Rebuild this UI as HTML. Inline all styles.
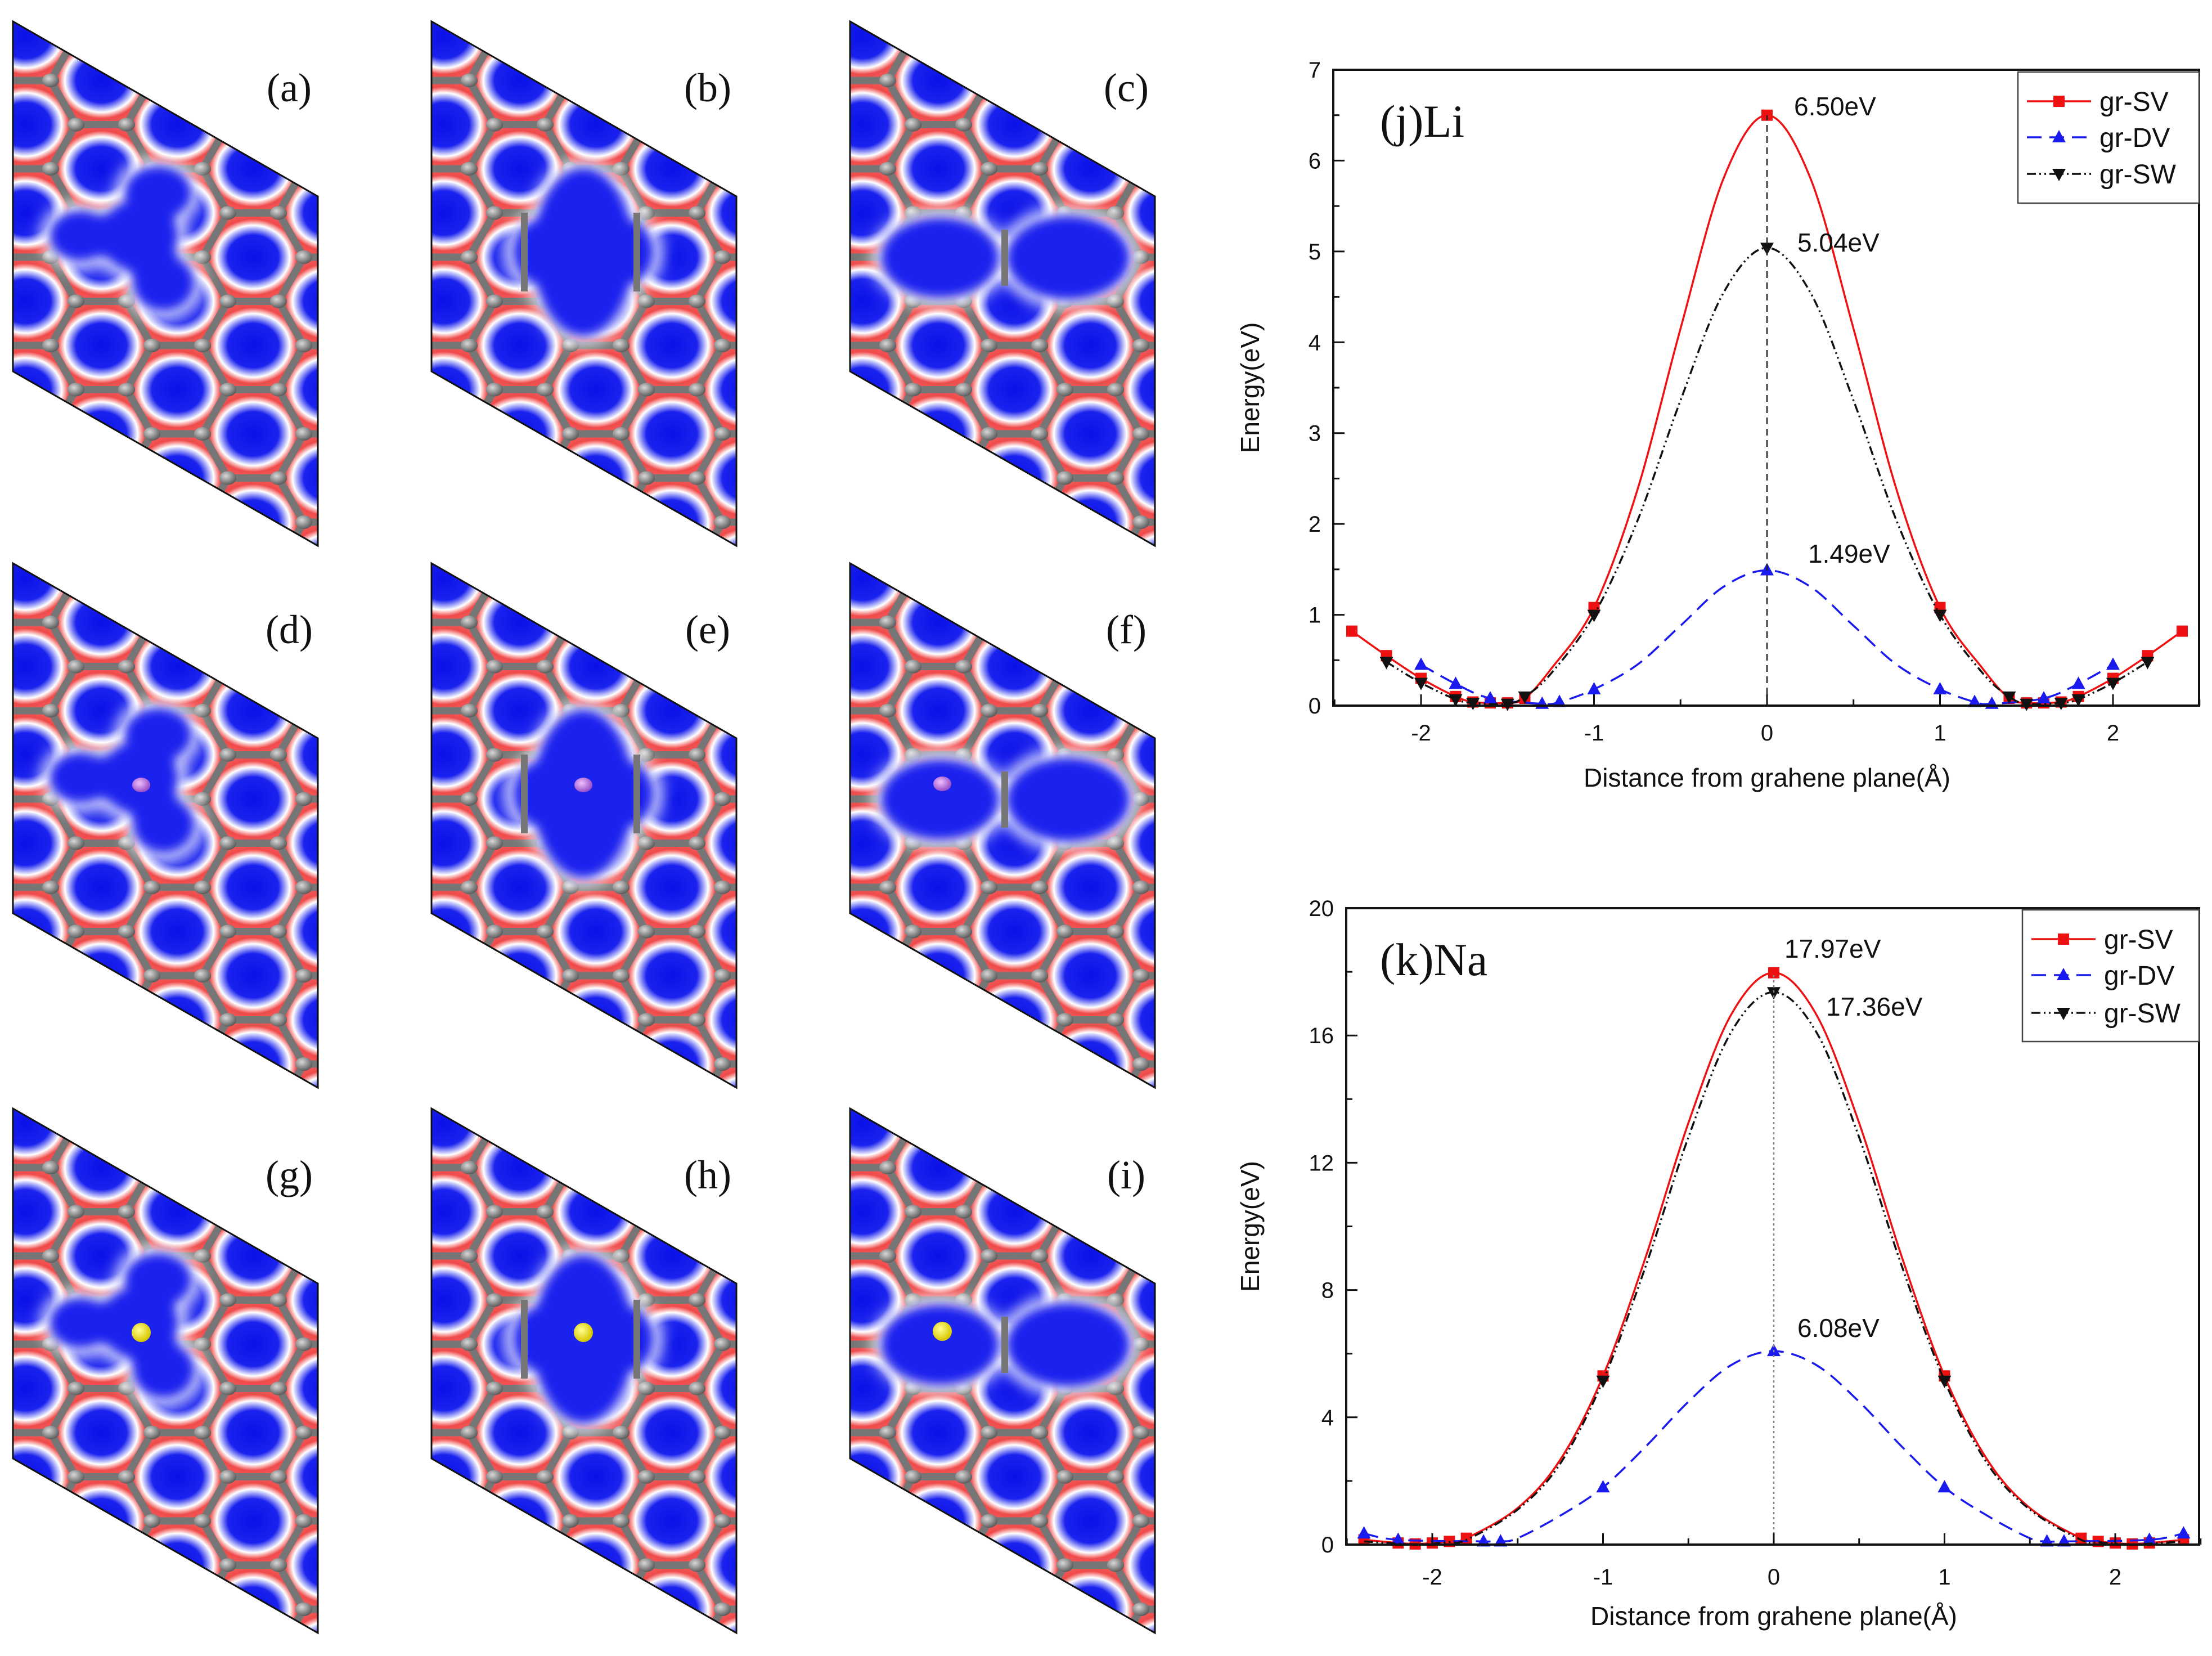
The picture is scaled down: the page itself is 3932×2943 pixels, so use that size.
<!DOCTYPE html>
<html><head><meta charset="utf-8">
<style>
html,body{margin:0;padding:0;background:#fff;}
svg{display:block;}
text{font-family:"Liberation Sans",sans-serif;}
.ser{font-family:"Liberation Serif",serif;}
</style></head>
<body>
<svg id="fig" width="3932" height="2943" viewBox="0 0 3932 2943" xmlns="http://www.w3.org/2000/svg">
<defs>
  <radialGradient id="hexfill" cx="50%" cy="50%" r="50%">
    <stop offset="0" stop-color="#0a10e8"/>
    <stop offset="0.5" stop-color="#1a22ee"/>
    <stop offset="0.72" stop-color="#ffffff"/>
    <stop offset="0.86" stop-color="#f04a4a"/>
    <stop offset="1" stop-color="#f05858"/>
  </radialGradient>
  <radialGradient id="atomG" cx="38%" cy="35%" r="65%">
    <stop offset="0" stop-color="#d8d8d8"/><stop offset="1" stop-color="#5e5e5e"/>
  </radialGradient>
  <filter id="soft" x="-30%" y="-30%" width="160%" height="160%"><feGaussianBlur stdDeviation="9"/></filter>
  <filter id="halo" x="-30%" y="-30%" width="160%" height="160%"><feGaussianBlur stdDeviation="14"/></filter>
  <radialGradient id="liG" cx="40%" cy="38%" r="60%"><stop offset="0" stop-color="#f0c0ff"/><stop offset="1" stop-color="#9a50c8"/></radialGradient>
  <radialGradient id="naG" cx="40%" cy="38%" r="60%"><stop offset="0" stop-color="#ffff90"/><stop offset="1" stop-color="#d8c800"/></radialGradient>
  <pattern id="lattice" patternUnits="userSpaceOnUse" x="157" y="105" width="270" height="157">
    <g id="tile"></g>
  </pattern>
  <clipPath id="para"><polygon points="0,0 542,311 542,932 0,622"/></clipPath>
</defs>
<g id="panels"></g>
<g id="chartJ"></g>
<g id="chartK"></g>
</svg>
<script>
// ---------- chart data (j: Li) ----------
const jSvX=[-2.4,-2.2,-2,-1.8,-1.7,-1.6,-1.5,-1.4,-1.25,-1,-0.75,-0.5,-0.25,0,0.25,0.5,0.75,1,1.25,1.4,1.5,1.6,1.7,1.8,2,2.2,2.4];
const jSvY=[0.82,0.55,0.3,0.1,0.04,0.03,0.03,0.08,0.4,1.08,2.37,4.15,5.81,6.5,5.81,4.15,2.37,1.08,0.4,0.08,0.03,0.03,0.04,0.1,0.3,0.55,0.82];
const jSvMarkX=[-2.4,-2.2,-2,-1.8,-1.7,-1.6,-1.5,-1.4,-1,0,1,1.4,1.5,1.6,1.7,1.8,2,2.2,2.4];
const jDvX=[-2,-1.8,-1.6,-1.3,-1.2,-1,-0.75,-0.5,-0.25,0,0.25,0.5,0.75,1,1.2,1.3,1.6,1.8,2];
const jDvY=[0.45,0.24,0.08,0.02,0.04,0.18,0.45,0.88,1.31,1.49,1.31,0.88,0.45,0.18,0.04,0.02,0.08,0.24,0.45];
const jDvMarkX=[-2,-1.8,-1.6,-1.3,-1.2,-1,0,1,1.2,1.3,1.6,1.8,2];
const jSwX=[-2.2,-2,-1.8,-1.7,-1.5,-1.4,-1.25,-1,-0.75,-0.5,-0.25,0,0.25,0.5,0.75,1,1.25,1.4,1.5,1.7,1.8,2,2.2];
const jSwY=[0.48,0.25,0.07,0.03,0.02,0.1,0.35,1.0,2.03,3.36,4.55,5.04,4.55,3.36,2.03,1.0,0.35,0.1,0.02,0.03,0.07,0.25,0.48];
const jSwMarkX=[-2.2,-2,-1.8,-1.7,-1.5,-1.4,-1,0,1,1.4,1.5,1.7,1.8,2,2.2];
const jXTicks=[-2,-1,0,1,2];
const jYTicks=[0,1,2,3,4,5,6,7];
const jPeakLabels=["6.50eV","5.04eV","1.49eV"];
const jPeakValues=[6.5,5.04,1.49];
// ---------- chart data (k: Na) ----------
const kSvX=[-2.4,-2.2,-2.1,-2,-1.9,-1.8,-1.5,-1.25,-1,-0.75,-0.5,-0.25,0,0.25,0.5,0.75,1,1.25,1.5,1.8,1.9,2,2.1,2.2,2.4];
const kSvY=[0.15,0.05,0.02,0.05,0.1,0.2,1.15,2.67,5.3,9.04,13.25,16.65,17.97,16.65,13.25,9.04,5.3,2.67,1.15,0.2,0.1,0.05,0.02,0.05,0.15];
const kSvMarkX=[-2.4,-2.2,-2.1,-2,-1.9,-1.8,-1,0,1,1.8,1.9,2,2.1,2.2,2.4];
const kSwX=[-2.4,-2.2,-2.1,-2,-1.9,-1.8,-1.5,-1.25,-1,-0.75,-0.5,-0.25,0,0.25,0.5,0.75,1,1.25,1.5,1.8,1.9,2,2.1,2.2,2.4];
const kSwY=[0.1,0.03,0.01,0.03,0.08,0.15,1.1,2.55,5.15,8.75,12.8,16.1,17.36,16.1,12.8,8.75,5.15,2.55,1.1,0.15,0.08,0.03,0.01,0.03,0.1];
const kSwMarkX=[-1,0,1];
const kDvX=[-2.4,-2.2,-1.7,-1.6,-1.5,-1.25,-1,-0.75,-0.5,-0.25,0,0.25,0.5,0.75,1,1.25,1.5,1.6,1.7,2.2,2.4];
const kDvY=[0.35,0.15,0.1,0.1,0.2,0.91,1.8,3.08,4.49,5.64,6.08,5.64,4.49,3.08,1.8,0.91,0.2,0.1,0.1,0.15,0.35];
const kDvMarkX=[-2.4,-2.2,-1.7,-1.6,-1,0,1,1.6,1.7,2.2,2.4];
const kXTicks=[-2,-1,0,1,2];
const kYTicks=[0,4,8,12,16,20];
const kPeakLabels=["17.97eV","17.36eV","6.08eV"];
const kPeakValues=[17.97,17.36,6.08];

const NS="http://www.w3.org/2000/svg";
function mk(tag,attrs,parent){const e=document.createElementNS(NS,tag);for(const k in attrs)e.setAttribute(k,attrs[k]);if(parent)parent.appendChild(e);return e;}

// ---------- lattice tile ----------
(function(){
  const tile=document.getElementById('tile');
  const s=90,h=78.5;
  const centers=[[0,0],[270,0],[0,157],[270,157],[135,78.5],[135,-78.5],[135,235.5]];
  const hexPts=(cx,cy)=>[[cx-s,cy],[cx-s/2,cy-h],[cx+s/2,cy-h],[cx+s,cy],[cx+s/2,cy+h],[cx-s/2,cy+h]];
  centers.forEach(c=>{mk('polygon',{points:hexPts(c[0],c[1]).map(p=>p.join(',')).join(' '),fill:'url(#hexfill)'},tile);});
  centers.forEach(c=>{mk('polygon',{points:hexPts(c[0],c[1]).map(p=>p.join(',')).join(' '),fill:'none',stroke:'#767676','stroke-width':13},tile);});
  centers.forEach(c=>{hexPts(c[0],c[1]).forEach(p=>mk('ellipse',{cx:p[0],cy:p[1],rx:15,ry:12,fill:'url(#atomG)'},tile));});
})();

// ---------- structure panels ----------
function blob(parent,shapes){
  const h=mk('g',{filter:'url(#halo)'},parent);
  shapes.forEach(s=>mk('ellipse',{cx:s[0],cy:s[1],rx:s[2]+14,ry:s[3]+14,fill:'#ffffff'},h));
  const b=mk('g',{filter:'url(#soft)'},parent);
  shapes.forEach(s=>mk('ellipse',{cx:s[0],cy:s[1],rx:s[2],ry:s[3],fill:'#1a22ee'},b));
}
(function(){
  const root=document.getElementById('panels');
  const colX=[23,767,1511], rowY=[38,1001,1970];
  const labels=[["(a)","(b)","(c)"],["(d)","(e)","(f)"],["(g)","(h)","(i)"]];
  for(let r=0;r<3;r++)for(let c=0;c<3;c++){
    const g=mk('g',{transform:`translate(${colX[c]},${rowY[r]})`},root);
    
    
    const inner=mk('g',{'clip-path':'url(#para)'},g);
    mk('rect',{x:0,y:0,width:542,height:932,fill:'url(#lattice)'},inner);
    if(c===0){
      blob(inner,[[120,381,55,45],[224,381,70,65],[258,305,60,48],[268,465,55,50],[175,381,60,40],[245,340,45,45],[250,430,45,45]]);}
    if(c===1){blob(inner,[[270,410,90,150],[200,410,55,60],[340,410,55,60]]);
      mk('line',{x1:165,y1:340,x2:165,y2:480,stroke:'#767676','stroke-width':12},inner);
      mk('line',{x1:365,y1:340,x2:365,y2:480,stroke:'#767676','stroke-width':12},inner);}
    if(c===2){blob(inner,[[160,420,105,72],[388,420,110,75]]);
      mk('line',{x1:275,y1:370,x2:275,y2:470,stroke:'#767676','stroke-width':12},inner);}
    mk('polygon',{points:"0,0 542,311 542,932 0,622",fill:'none',stroke:'#111','stroke-width':3},g);
    const atomPos=[[228,394],[270,394],[164,392]];
    if(r===1){const a=mk('ellipse',{cx:atomPos[c][0],cy:atomPos[c][1],rx:16,ry:13,fill:'url(#liG)'},g);
      }
    if(r===2){const a=mk('circle',{cx:atomPos[c][0],cy:atomPos[c][1]+4,r:17,fill:'url(#naG)'},g);
      }
    const t=mk('text',{x:491,y:142,'font-size':72,'text-anchor':'middle',class:'ser',fill:'#111'},g);
    t.textContent=labels[r][c];
    
    
  }
})();

// ---------- charts ----------
function spline(pts){
  let d=`M${pts[0][0]},${pts[0][1]}`;
  for(let i=0;i<pts.length-1;i++){
    const p0=pts[Math.max(0,i-1)],p1=pts[i],p2=pts[i+1],p3=pts[Math.min(pts.length-1,i+2)];
    const c1=[p1[0]+(p2[0]-p0[0])/6,p1[1]+(p2[1]-p0[1])/6];
    const c2=[p2[0]-(p3[0]-p1[0])/6,p2[1]-(p3[1]-p1[1])/6];
    d+=` C${c1[0]},${c1[1]} ${c2[0]},${c2[1]} ${p2[0]},${p2[1]}`;
  }
  return d;
}
function marker(g,type,x,y,color){
  let e;
  if(type==='sq') e=mk('rect',{x:x-10,y:y-10,width:20,height:20,fill:color},g);
  else if(type==='up') e=mk('polygon',{points:`${x},${y-13} ${x-12},${y+9} ${x+12},${y+9}`,fill:color},g);
  else e=mk('polygon',{points:`${x},${y+13} ${x-12},${y-9} ${x+12},${y-9}`,fill:color},g);
  return e;
}
function drawChart(cfg){
  const g=document.getElementById(cfg.id);
  const L=cfg.L,R=cfg.R,T=cfg.T,B=cfg.B;
  const sx=v=>cfg.x0+v*cfg.ux;
  const sy=v=>B-(v/cfg.ymax)*(B-T);
  cfg.series.forEach(s=>{
    const sg=mk('g',{},g);
    
    
    const pts=s.xs.map((x,i)=>[sx(x),sy(s.ys[i])]);
    const p=mk('path',{d:spline(pts),fill:'none',stroke:s.color,'stroke-width':3.5},sg);
    if(s.dash)p.setAttribute('stroke-dasharray',s.dash);
    s.marks.forEach(mx=>{const i=s.xs.indexOf(mx);const m=marker(sg,s.mk,sx(mx),sy(s.ys[i]),s.color);
      });
  });
  const vl=mk('line',{x1:sx(0),y1:B,x2:sx(0),y2:sy(cfg.peakValues[0]),stroke:cfg.vcolor,'stroke-width':2.5,'stroke-dasharray':cfg.vdash},g);
  
  const fr=mk('rect',{x:L,y:T,width:R-L,height:B-T,fill:'none',stroke:'#111','stroke-width':4},g);
  
  cfg.xTicks.forEach(v=>{
    mk('line',{x1:sx(v),y1:B,x2:sx(v),y2:B-20,stroke:'#111','stroke-width':3},g);
    const t=mk('text',{x:sx(v),y:cfg.xlabY,'font-size':40,'text-anchor':'middle',fill:'#111'},g);
    t.textContent=v; 
  });
  for(let i=0;i<cfg.xTicks.length;i++){const v=cfg.xTicks[i]-0.5;mk('line',{x1:sx(v),y1:B,x2:sx(v),y2:B-11,stroke:'#111','stroke-width':3},g);}
  mk('line',{x1:sx(2.5),y1:B,x2:sx(2.5),y2:B-11,stroke:'#111','stroke-width':3},g);
  cfg.yTicks.forEach((v,i)=>{
    mk('line',{x1:L,y1:sy(v),x2:L+20,y2:sy(v),stroke:'#111','stroke-width':3},g);
    if(i<cfg.yTicks.length-1){const m=(v+cfg.yTicks[i+1])/2;mk('line',{x1:L,y1:sy(m),x2:L+11,y2:sy(m),stroke:'#111','stroke-width':3},g);}
    const t=mk('text',{x:L-22,y:sy(v)+14,'font-size':40,'text-anchor':'end',fill:'#111'},g);
    t.textContent=v; 
  });
  const xt=mk('text',{x:sx(0),y:cfg.xtitleY,'font-size':46,'text-anchor':'middle',fill:'#111'},g);
  xt.textContent='Distance from grahene plane(Å)';
  const cy=(T+B)/2;
  const yt=mk('text',{x:2238,y:cy,'font-size':46,'text-anchor':'middle',fill:'#111',transform:`rotate(-90 2238 ${cy})`},g);
  yt.textContent='Energy(eV)';
  const pt=mk('text',{x:2453,y:cfg.titleY,'font-size':82,class:'ser',fill:'#111'},g);
  pt.textContent=cfg.title;
  cfg.peakLabels.forEach((s,i)=>{const t=mk('text',{x:cfg.annX[i],y:cfg.annY[i],'font-size':46,fill:'#111'},g);
    t.textContent=s;});
  const lg=mk('g',{},g);
  mk('rect',{x:cfg.leg[0],y:cfg.leg[1],width:R-cfg.leg[0],height:cfg.leg[2]-cfg.leg[1],fill:'#fff',stroke:'#444','stroke-width':2.5},lg);
  cfg.series.forEach((s,i)=>{
    const e=mk('g',{},lg);
    const y=cfg.legY[i];
    const l=mk('line',{x1:cfg.leg[0]+16,y1:y,x2:cfg.leg[0]+130,y2:y,stroke:s.color,'stroke-width':3.5},e);
    if(s.dash)l.setAttribute('stroke-dasharray',s.dash);
    marker(e,s.mk,cfg.leg[0]+73,y,s.color);
    const t=mk('text',{x:cfg.leg[0]+145,y:y+17,'font-size':48,fill:'#111'},e);t.textContent=s.name;
  });
}
drawChart({id:'chartJ',L:2370,R:3909,T:124,B:1254,x0:3141,ux:307.5,ymax:7,xTicks:jXTicks,yTicks:jYTicks,
  xlabY:1316,xtitleY:1398,titleY:243,title:'(j)Li',vcolor:'#222',vdash:'12,8',
  peakLabels:jPeakLabels,peakValues:jPeakValues,annX:[3189,3195,3214],annY:[205,447,1000],
  leg:[3587,128,361],legY:[180,244,309],
  series:[
    {name:'gr-SV',xs:jSvX,ys:jSvY,marks:jSvMarkX,color:'#ee1111',mk:'sq',dash:null},
    {name:'gr-DV',xs:jDvX,ys:jDvY,marks:jDvMarkX,color:'#1a1aee',mk:'up',dash:'26,14'},
    {name:'gr-SW',xs:jSwX,ys:jSwY,marks:jSwMarkX,color:'#111',mk:'dn',dash:'16,6,3,6,3,6'}]});
drawChart({id:'chartK',L:2393,R:3909,T:1614,B:2745,x0:3153,ux:303.5,ymax:20,xTicks:kXTicks,yTicks:kYTicks,
  xlabY:2816,xtitleY:2888,titleY:1733,title:'(k)Na',vcolor:'#888',vdash:'4,5',
  peakLabels:kPeakLabels,peakValues:kPeakValues,annX:[3172,3246,3195],annY:[1702,1805,2376],
  leg:[3595,1617,1851],legY:[1669,1733,1800],
  series:[
    {name:'gr-SV',xs:kSvX,ys:kSvY,marks:kSvMarkX,color:'#ee1111',mk:'sq',dash:null},
    {name:'gr-DV',xs:kDvX,ys:kDvY,marks:kDvMarkX,color:'#1a1aee',mk:'up',dash:'26,14'},
    {name:'gr-SW',xs:kSwX,ys:kSwY,marks:kSwMarkX,color:'#111',mk:'dn',dash:'16,6,3,6,3,6'}]});
</script>
</body></html>
